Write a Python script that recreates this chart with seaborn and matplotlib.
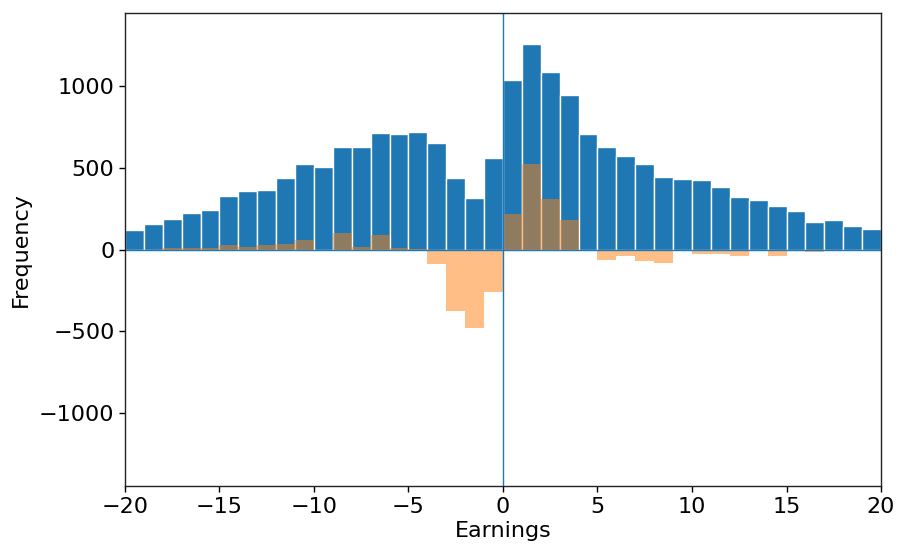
import numpy as np
import pandas as pd
import matplotlib
matplotlib.use("Agg")
import matplotlib.pyplot as plt
import seaborn as sns

# Bin left edges (width 1) spanning -20 .. 19
bin_starts = list(range(-20, 20))

# Frequency of earnings in each bin
frequency = [
    123, 157, 188, 223, 241, 329, 360, 364, 438, 526,
    505, 632, 628, 716, 710, 724, 654, 440, 315, 562,
    1037, 1258, 1086, 945, 706, 626, 571, 526, 444, 434,
    427, 382, 321, 307, 268, 237, 172, 182, 145, 129,
]

# Difference per bin against the comparison distribution
difference = [
    0, 0, 10, 10, 10, 31, 16, 31, 33, 57,
    0, 102, 16, 92, 12, 3, -86, -376, -481, -262,
    219, 524, 309, 184, -10, -65, -37, -72, -82, 0,
    -29, -29, -41, 0, -37, 0, -14, -8, 0, 0,
]

df = pd.DataFrame({
    "start": bin_starts,
    "frequency": frequency,
    "difference": difference,
})
df["center"] = df["start"] + 0.5

sns.set_style("ticks", {"axes.edgecolor": "black", "text.color": "black",
                        "axes.labelcolor": "black", "xtick.color": "black",
                        "ytick.color": "black"})
plt.rcParams["font.family"] = ["DejaVu Sans"]

fig, ax = plt.subplots(figsize=(8.99, 5.45), dpi=100)
fig.subplots_adjust(left=0.139, right=0.98, top=0.976, bottom=0.108)

sns.histplot(data=df, x="center", weights="frequency",
             binwidth=1, binrange=(-20, 20),
             color="#1f77b4", alpha=1.0, edgecolor="white", linewidth=1,
             ax=ax)
sns.histplot(data=df, x="center", weights="difference",
             binwidth=1, binrange=(-20, 20),
             color="#ff7f0e", alpha=0.5, edgecolor="none", linewidth=0,
             ax=ax)

ax.axvline(0, color="#1f77b4", lw=1)
ax.axhline(0, color="#1f77b4", lw=1)

ax.set_xlim(-20, 20)
ax.set_ylim(-1450, 1450)
ax.set_yticks([-1000, -500, 0, 500, 1000])
ax.set_xticks([-20, -15, -10, -5, 0, 5, 10, 15, 20])
ax.set_xlabel("Earnings", fontsize=16, labelpad=3)
ax.set_ylabel("Frequency", fontsize=16, labelpad=6)
ax.tick_params(labelsize=16, length=4, width=1, colors="black")
for s in ax.spines.values():
    s.set_visible(True)
    s.set_color("#222222")
    s.set_linewidth(1)

fig.savefig("out.png", dpi=100)
